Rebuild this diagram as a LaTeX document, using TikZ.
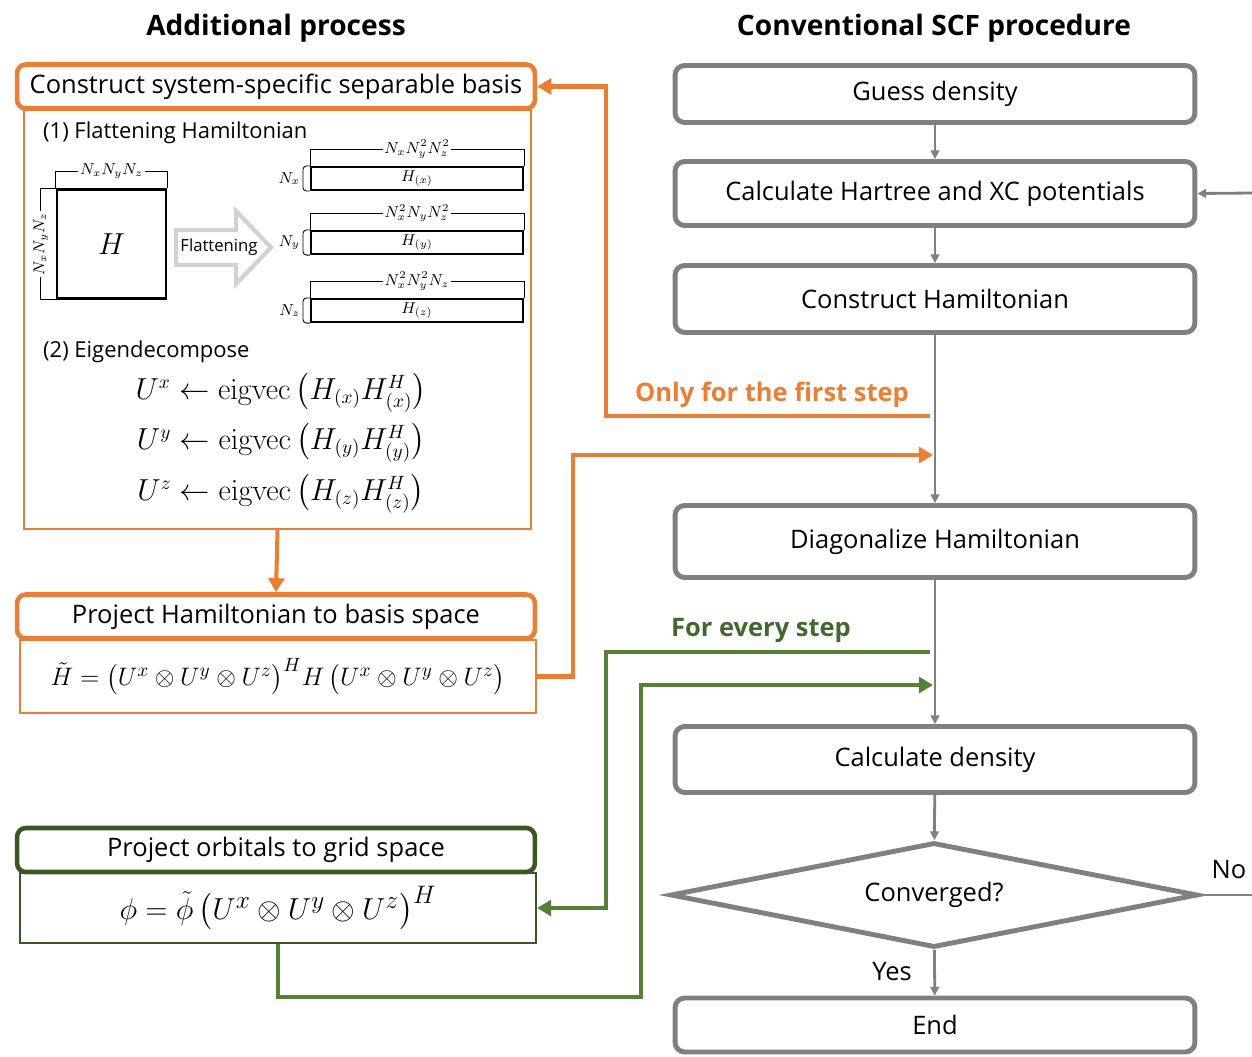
\documentclass[tikz,border=0pt]{standalone}
\usepackage{amsmath}
\usepackage[no-math]{fontspec}
\setmainfont{Open Sans}
\usetikzlibrary{arrows.meta,positioning,shapes.geometric,calc}
\definecolor{orangei}{RGB}{237,125,49}
\definecolor{greeni}{RGB}{84,130,53}
\definecolor{greenii}{RGB}{56,87,35}
\definecolor{greeniii}{RGB}{67,104,43}
\definecolor{grayi}{RGB}{128,128,128}
\definecolor{grayii}{RGB}{210,210,210}
\tikzset{
          title/.style={font=\fontsize{16}{19}\selectfont\bfseries},
          scfbox/.style={draw=grayi,line width=2.8pt,rounded corners=5.5pt,
            minimum width=10.4cm,font=\fontsize{14.5}{17}\selectfont},
          headbox/.style={draw=#1,fill=white,line width=2.6pt,rounded corners=5pt,
            minimum width=10.36cm,minimum height=0.88cm,font=\fontsize{14.5}{17}\selectfont},
          bodybox/.style={draw=#1,line width=1.3pt,minimum width=10.32cm,inner sep=2pt},
          scfflow/.style={draw=grayi,line width=1.6pt,-{Triangle[width=5pt,length=5pt]}},
          extflow/.style={draw=#1,line width=2.3pt,-{Triangle[width=9pt,length=8pt]}},
          extlabel/.style={font=\fontsize{14.5}{17}\selectfont\bfseries,text=#1},
          texto/.style={font=\fontsize{12.5}{15}\selectfont},
          eqn/.style={font=\fontsize{16.2}{19}\selectfont},
          dimlab/.style={font=\fontsize{9}{10}\selectfont,fill=white,inner sep=1pt},
          flatrow/.style={draw,line width=1.2pt,minimum width=4.24cm,
            minimum height=0.46cm,inner sep=0pt,font=\fontsize{9}{10}\selectfont}
        }
\newcommand\FlatRow[5]{%
          \node[flatrow] (#1) at (417,#2) {$#5$};
          \draw[line width=0.5pt] (#1.north west) -- ++(0,-17) -| (#1.north east);
          \node[dimlab] (#1top) at ($(#1.north)+(0,-17)$) {$#3$};
          \draw[line width=0.5pt,rounded corners=2pt] (#1.north west) -- ++(-7,0) |- (#1.south west);
          \node[font=\fontsize{9}{10}\selectfont,anchor=east,inner sep=1pt] (#1side)
            at ($(#1.west)+(-8,0)$) {$#4$};
        }

\begin{document}
\begin{tikzpicture}[x=0.02cm,y=-0.02cm]
            \useasboundingbox (0,0) rectangle (1252,1056);

            \node[title] (addtitle) at (276,28) {Additional process};
            \node[title] (scftitle) at (934,28) {Conventional SCF procedure};

            % conventional SCF loop
            \node[scfbox,minimum height=1.14cm] (guess) at (935,94) {Guess density};
            \node[scfbox,minimum height=1.28cm] (hxc) at (935,193.5) {Calculate Hartree and XC potentials};
            \node[scfbox,minimum height=1.34cm] (consH) at (935,299) {Construct Hamiltonian};
            \node[scfbox,minimum height=1.44cm] (diagH) at (935,541.5) {Diagonalize Hamiltonian};
            \node[scfbox,minimum height=1.32cm] (dens) at (935,759.5) {Calculate density};
            \node[diamond,draw=grayi,line width=2.8pt,minimum width=10.55cm,minimum height=2.1cm,
              inner sep=0pt,aspect=5,font=\fontsize{14.5}{17}\selectfont] (conv) at (934,895) {Converged?};
            \node[scfbox,minimum height=1.08cm] (endbox) at (935,1025) {End};
            \coordinate (noEnd) at (1252,895);
            \coordinate (loopIn) at (1252,193);

            \draw[scfflow] (guess) -- (hxc);
            \draw[scfflow] (hxc) -- (consH);
            \draw[scfflow] (consH) -- (diagH);
            \draw[scfflow] (diagH) -- (dens);
            \draw[scfflow] (dens) -- (conv);
            \draw[scfflow] (conv) -- (endbox);
            \draw[grayi,line width=1.6pt] (conv.east) -- (noEnd);
            \draw[scfflow] (loopIn) -- (hxc.east);
            \node[font=\fontsize{14.5}{17}\selectfont] (yeslab) at (892,972) {Yes};
            \node[font=\fontsize{14.5}{17}\selectfont] (nolab) at (1229,870) {No};

            % separable basis
            \node[bodybox=orangei,minimum width=10.14cm,minimum height=8.38cm] (basisBody) at (277.5,319.5) {};
            \node[headbox=orangei] (basisHead) at (276,86.5) {Construct system-specific separable basis};
            \node[texto,anchor=west] (flatttl) at (37,133) {(1) Flattening Hamiltonian};

            \node[draw,line width=1.4pt,minimum size=2.18cm,font=\fontsize{18}{21}\selectfont] (Hmat) at (111.5,244) {$H$};
            \draw[line width=0.5pt] (Hmat.north west) -- ++(0,-17) -| (Hmat.north east);
            \node[dimlab] (Hmattop) at ($(Hmat.north)+(0,-17)$) {$N_xN_yN_z$};
            \draw[line width=0.5pt] (Hmat.north west) -- ++(-15,0) |- (Hmat.south west);
            \node[dimlab,rotate=90] (Hmatside) at ($(Hmat.west)+(-15,0)$) {$N_xN_yN_z$};

            \draw[draw=grayii,fill=white,line width=2.4pt] (176,230) -- (236,230) -- (236,211)
              -- (271,247.5) -- (236,284) -- (236,265) -- (176,265) -- cycle;
            \node[font=\fontsize{9.5}{11}\selectfont] (flatlab) at (219,247) {Flattening};

            \FlatRow{Hx}{178.5}{N_xN_y^2N_z^2}{N_x}{H_{(x)}}
            \FlatRow{Hy}{242.5}{N_x^2N_yN_z^2}{N_y}{H_{(y)}}
            \FlatRow{Hz}{310.5}{N_x^2N_y^2N_z}{N_z}{H_{(z)}}

            \node[texto,anchor=west] (eigttl) at (37,352) {(2) Eigendecompose};
            \node[eqn] (eigx) at (281,393) {$U^x \leftarrow \mathrm{eigvec}\,\bigl(H_{(x)}H_{(x)}^H\bigr)$};
            \node[eqn] (eigy) at (281,443) {$U^y \leftarrow \mathrm{eigvec}\,\bigl(H_{(y)}H_{(y)}^H\bigr)$};
            \node[eqn] (eigz) at (281,494) {$U^z \leftarrow \mathrm{eigvec}\,\bigl(H_{(z)}H_{(z)}^H\bigr)$};

            % projections
            \node[bodybox=orangei,minimum height=1.46cm,font=\fontsize{15.5}{18}\selectfont] (projBody) at (278,676.5)
              {$\tilde{H} = \bigl(U^x\otimes U^y\otimes U^z\bigr)^H H\,\bigl(U^x\otimes U^y\otimes U^z\bigr)$};
            \node[headbox=orangei] (projHead) at (276,616.5) {Project Hamiltonian to basis space};

            \node[bodybox=greenii,minimum height=1.4cm,font=\fontsize{19}{22}\selectfont] (gridBody) at (278,908)
              {$\phi = \tilde{\phi}\,\bigl(U^x\otimes U^y\otimes U^z\bigr)^H$};
            \node[headbox=greenii] (gridHead) at (276,850) {Project orbitals to grid space};

            \coordinate (firstOut) at (930,416);
            \coordinate (firstIn) at (933,455);
            \coordinate (everyOut) at (930,652);
            \coordinate (everyIn) at (933,685);

            \draw[extflow=orangei] (basisBody.south) -- (projHead.north);
            \draw[extflow=orangei] (firstOut) -- ++(-324,0) |- (basisHead.east);
            \draw[extflow=orangei] (projBody.east) -- ++(36,0) |- (firstIn);
            \draw[extflow=greeni] (everyOut) -- ++(-324,0) |- (gridBody.east);
            \draw[extflow=greeni] (gridBody.south) -- ++(0,53) -| ($(everyIn)+(-292,0)$) -- (everyIn);

            \node[extlabel=orangei] (firstlab) at (772,395) {Only for the first step};
            \node[extlabel=greeniii] (everylab) at (761,630) {For every step};
\end{tikzpicture}
\end{document}
